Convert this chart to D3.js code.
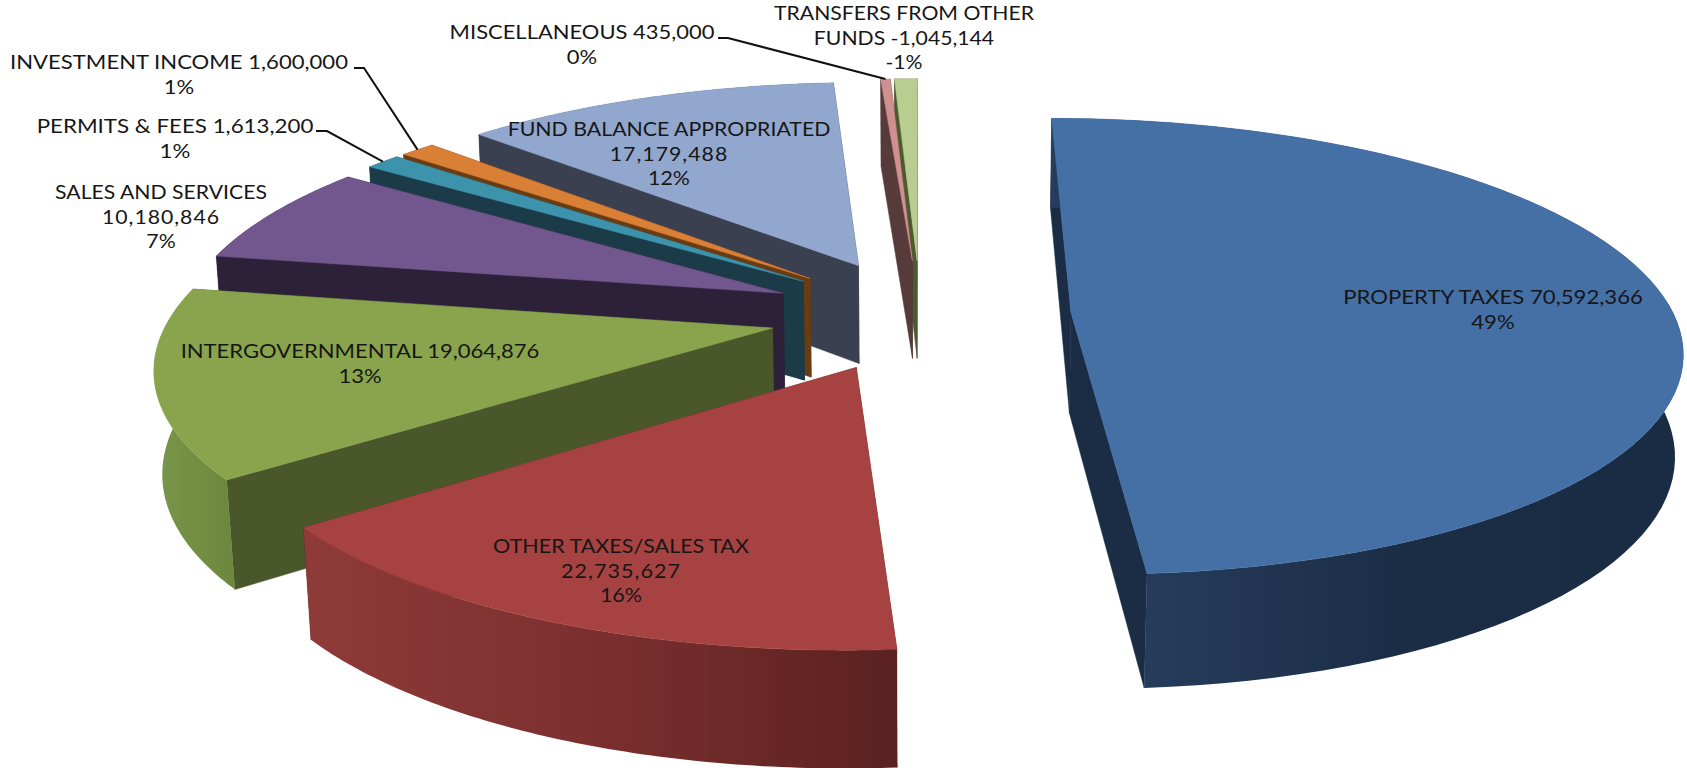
<!DOCTYPE html>
<html>
<head>
<meta charset="utf-8">
<script src="https://cdn.jsdelivr.net/npm/d3@7"></script>
<style>
  html, body { margin: 0; background: #fff; }
  svg { display: block; }
  text { font-family: Lato, sans-serif; fill: #161616; }
</style>
</head>
<body>
<div id="chart"></div>
<script>
const categories = ["PROPERTY TAXES", "OTHER TAXES/SALES TAX", "INTERGOVERNMENTAL", "SALES AND SERVICES",
    "PERMITS & FEES", "INVESTMENT INCOME", "FUND BALANCE APPROPRIATED", "MISCELLANEOUS", "TRANSFERS FROM OTHER FUNDS"];
const values = [70592366, 22735627, 19064876, 10180846, 1613200, 1600000, 17179488, 435000, -1045144];
const percents = ["49%", "16%", "13%", "7%", "1%", "1%", "12%", "0%", "-1%"];

// how each label breaks over its lines
const labelLines = [
    ["PROPERTY TAXES 70,592,366", "49%"],
    ["OTHER TAXES/SALES TAX", "22,735,627", "16%"],
    ["INTERGOVERNMENTAL 19,064,876", "13%"],
    ["SALES AND SERVICES", "10,180,846", "7%"],
    ["PERMITS & FEES 1,613,200", "1%"],
    ["INVESTMENT INCOME 1,600,000", "1%"],
    ["FUND BALANCE APPROPRIATED", "17,179,488", "12%"],
    ["MISCELLANEOUS 435,000", "0%"],
    ["TRANSFERS FROM OTHER", "FUNDS -1,045,144", "-1%"]
];

const topColors = ["#4570a6", "#a64241", "#89a44c", "#71578d", "#3e93ac", "#d97f36", "#92a7ce", "#d09090", "#b9cd90"];
const cutColors = ["#1b2d45", "#5f2322", "#4a572a", "#2c2138", "#1a3b47", "#6a3c13", "#3a4050", "#573b3b", "#4c5a30"];
// outer wall shading, left to right
const wallColors = [
    ["#263c5c", "#1b2d45", "#1a2c44"], ["#8e3a38", "#7a2f2e", "#5a2120"], ["#78944a", "#728e42", "#6c873e"],
    ["#2c2138", "#2c2138"], ["#1a3b47", "#1a3b47"], ["#6a3c13", "#6a3c13"], ["#3a4050", "#3a4050"],
    ["#573b3b", "#573b3b"], ["#4c5a30", "#4c5a30"]
];

const width = 1687, height = 768;

// pie geometry, camera elevation and distance
const cx = 920.4, cy = 314.7, radius = 602.7, depth = 109.5, explode = 150.9;
const sinE = 0.371, cosE = Math.sqrt(1 - sinE * sinE), camera = 3792;

// label centre x, first line centre y, widest line width
const labelLayout = [
    [1493, 298, 300], [621, 547, 256], [360, 352, 359], [161, 193, 212], [175, 127, 277],
    [179, 63, 338], [669, 130, 323], [582, 33, 265], [904, 14, 260]
];
const lineStep = 24.5;

// leader lines: slice, label end x, elbow x, y
const leaders = [[5, 354, 364, 68], [4, 316, 327, 131], [7, 718, 728, 38]];

const svg = d3.select("#chart").append("svg").attr("width", width).attr("height", height);
const defs = svg.append("defs");
const slices = d3.pie().sort(null).value(d => Math.abs(d)).startAngle(0).endAngle(2 * Math.PI)(values);
const line = d3.line();

function project(s, a, r, level) {
    const mid = (s.startAngle + s.endAngle) / 2;
    const u = r * Math.sin(a) + explode * Math.sin(mid);
    const v = -r * Math.cos(a) - explode * Math.cos(mid);
    const h = level * depth;
    const k = camera / (camera - v * cosE + h * sinE);
    return [cx + u * k, cy + (v * sinE + h * cosE) * k];
}

function rimAngles(s) {
    return d3.range(0, 81).map(i => s.startAngle + (s.endAngle - s.startAngle) * i / 80);
}

function rim(s, level) {
    return rimAngles(s).map(a => project(s, a, radius, level));
}

// back slices first
const order = d3.range(slices.length).sort((a, b) => d3.ascending(project(slices[a], 0, 0, 0)[1], project(slices[b], 0, 0, 0)[1]));

order.forEach(i => {
    const s = slices[i];
    const g = svg.append("g").attr("class", "slice").attr("data-name", categories[i]).attr("data-percent", percents[i]);
    const apexTop = project(s, 0, 0, 0), apexBottom = project(s, 0, 0, 1);
    const rimTop = rim(s, 0), rimBottom = rim(s, 1);

    [0, rimTop.length - 1].forEach(j => {
        const d = line([apexTop, rimTop[j], rimBottom[j], apexBottom]) + "Z";
        g.append("path").attr("d", d).attr("fill", cutColors[i]).attr("stroke", cutColors[i]).attr("stroke-width", 0.5);
    });

    // shade only over the part of the wall that faces the viewer
    const front = rimAngles(s).filter(a => Math.cos(a) < 0).map(a => project(s, a, radius, 1)[0]);
    const xs = d3.extent(front.length ? front : rimBottom.map(p => p[0]));
    const grad = defs.append("linearGradient").attr("id", "wall" + i).attr("gradientUnits", "userSpaceOnUse")
        .attr("x1", xs[0]).attr("x2", xs[1]).attr("y1", 0).attr("y2", 0);
    wallColors[i].forEach((c, j) => {
        grad.append("stop").attr("offset", j / (wallColors[i].length - 1)).attr("stop-color", c);
    });
    g.append("path").attr("d", line(rimTop.concat(rimBottom.slice().reverse())) + "Z").attr("fill", `url(#wall${i})`);

    g.append("path").attr("d", line([apexTop].concat(rimTop)) + "Z").attr("fill", topColors[i])
        .attr("stroke", topColors[i]).attr("stroke-width", 0.5);
});

// leader lines end on the middle of the slice rim
leaders.forEach(l => {
    const s = slices[l[0]];
    const end = project(s, (s.startAngle + s.endAngle) / 2, radius, 0);
    svg.append("path").attr("d", line([[l[1], l[3]], [l[2], l[3]], end]))
        .attr("fill", "none").attr("stroke", "#111").attr("stroke-width", 2);
});

labelLines.forEach((lines, i) => {
    const layout = labelLayout[i];
    const g = svg.append("g").attr("class", "label");
    const texts = lines.map((t, j) => g.append("text")
        .attr("text-anchor", "middle")
        .attr("font-size", 19)
        .attr("letter-spacing", /^[\d,]+$/.test(t) ? 0.9 : 0)
        .attr("y", layout[1] + j * lineStep + 6.5)
        .text(t));
    const widest = d3.max(texts, t => t.node().getComputedTextLength());
    g.attr("transform", `translate(${layout[0]},0) scale(${layout[2] / widest},1)`);
});
</script>
</body>
</html>
